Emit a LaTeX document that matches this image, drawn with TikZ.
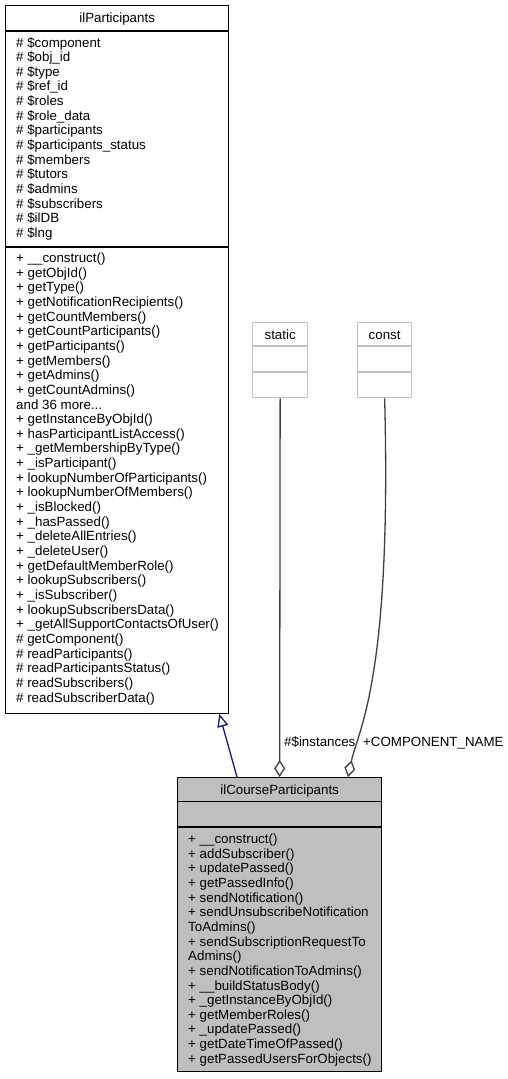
\documentclass[tikz,border=0pt]{standalone}
\usepackage{fontspec}
\setmainfont{Liberation Sans}
\usepackage{tikz}
\usetikzlibrary{positioning}
\usetikzlibrary{arrows.meta}
\usetikzlibrary{calc}
\tikzset{
    class diagram/.style={
            x=1pt,y=-1pt,
            font=\fontsize{13.33}{14.65}\selectfont,
            classbox/.style={draw=black,line width=1.3pt,anchor=north west,inner sep=0pt},
            mainbox/.style={classbox,fill=black!25},
            tagbox/.style={classbox,draw=black!25},
            sep/.style={draw=black,line width=1.3pt},
            tagsep/.style={draw=black!25,line width=1.3pt},
            member/.style={anchor=base west,inner sep=0pt},
            title/.style={anchor=base,inner sep=0pt},
            inherit/.style={draw={rgb,255:red,25;green,25;blue,112},line width=1.3pt,
                -{Triangle[open,length=13pt,width=11pt]}},
            aggr/.style={draw=black!75,line width=1.3pt,
                -{Diamond[open,length=17pt,width=11pt]}}
        }
    }

\begin{document}
\begin{tikzpicture}[class diagram]
    \useasboundingbox (0,0) rectangle (507,1079);
    % base class
    \node[classbox,minimum width=223pt,minimum height=707.5pt] (participants) at (5,5) {};
    \node[title] (participantstitle) at (participants.north |- 0,22.5) {ilParticipants};
    \draw[sep] (participants.west |- 0,31) -- (participants.east |- 0,31);
    \draw[sep] (participants.west |- 0,247) -- (participants.east |- 0,247);
    \foreach \m [count=\i from 0] in {\# \$component,\# \$obj\_id,\# \$type,\# \$ref\_id,
        \# \$roles,\# \$role\_data,\# \$participants,\# \$participants\_status,\# \$members,
        \# \$tutors,\# \$admins,\# \$subscribers,\# \$ilDB,\# \$lng}
        \node[member] (attr\i) at (16,{47+14.65*\i}) {\m};
    \foreach \m [count=\i from 0] in {+ \_\_construct(),+ getObjId(),+ getType(),
        + getNotificationRecipients(),+ getCountMembers(),+ getCountParticipants(),
        + getParticipants(),+ getMembers(),+ getAdmins(),+ getCountAdmins(),{and 36 more{.}{.}{.}},
        + getInstanceByObjId(),+ hasParticipantListAccess(),+ \_getMembershipByType(),
        + \_isParticipant(),+ lookupNumberOfParticipants(),+ lookupNumberOfMembers(),
        + \_isBlocked(),+ \_hasPassed(),+ \_deleteAllEntries(),+ \_deleteUser(),
        + getDefaultMemberRole(),+ lookupSubscribers(),+ \_isSubscriber(),
        + lookupSubscribersData(),+ \_getAllSupportContactsOfUser(),\# getComponent(),
        \# readParticipants(),\# readParticipantsStatus(),\# readSubscribers(),
        \# readSubscriberData()}
        \node[member] (op\i) at (16,{262.5+14.65*\i}) {\m};
    % template tags
    \node[tagbox,minimum width=55pt,minimum height=75pt] (static) at (252,322) {};
    \node[title] (statictitle) at (static.north |- 0,339) {static};
    \draw[tagsep] (static.west |- 0,346) -- (static.east |- 0,346);
    \draw[tagsep] (static.west |- 0,372) -- (static.east |- 0,372);
    \node[tagbox,minimum width=54pt,minimum height=75pt] (const) at (357,322) {};
    \node[title] (consttitle) at (const.north |- 0,339) {const};
    \draw[tagsep] (const.west |- 0,346) -- (const.east |- 0,346);
    \draw[tagsep] (const.west |- 0,372) -- (const.east |- 0,372);
    % derived class
    \node[mainbox,minimum width=204pt,minimum height=294pt] (course) at (177,777) {};
    \node[title] (coursetitle) at (course.north |- 0,794) {ilCourseParticipants};
    \draw[sep] (course.west |- 0,801.5) -- (course.east |- 0,801.5);
    \draw[sep] (course.west |- 0,827) -- (course.east |- 0,827);
    \foreach \m [count=\i from 0] in {+ \_\_construct(),+ addSubscriber(),+ updatePassed(),
        + getPassedInfo(),+ sendNotification(),+ sendUnsubscribeNotification,ToAdmins(),
        + sendSubscriptionRequestTo,Admins(),+ sendNotificationToAdmins(),
        + \_\_buildStatusBody(),+ \_getInstanceByObjId(),+ getMemberRoles(),
        + \_updatePassed(),+ getDateTimeOfPassed(),+ getPassedUsersForObjects()}
        \node[member] (cop\i) at (188,{843.5+14.65*\i}) {\m};
    % relations
    \draw[inherit] ($(course.north west)+(60,0)$) -- ($(participants.south east)+(-10,0)$);
    \draw[aggr] (static.south) -- (course.north);
    \draw[aggr] (const.south) .. controls (392,680) and (358,730) .. ($(course.north west)+(171,0)$);
    \node[member] (instances) at (284,746) {\#\$instances};
    \node[member] (componentname) at (363,746) {+COMPONENT\_NAME};
\end{tikzpicture}
\end{document}
